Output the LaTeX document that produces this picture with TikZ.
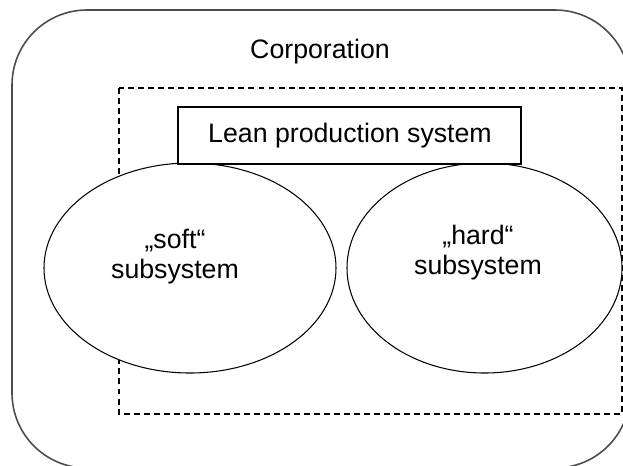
\documentclass[tikz,border=0pt]{standalone}
\usepackage{fontspec}
\setmainfont{Liberation Sans}
\usetikzlibrary{shapes.geometric,positioning}

\tikzset{
  labeltext/.style={font=\fontsize{15.2}{17}\selectfont, align=center, inner sep=0pt},
  subsys/.style={ellipse, draw=black, fill=white, line width=0.6pt, inner sep=0pt},
}

\begin{document}
\begin{tikzpicture}[x=0.2mm, y=-0.2mm]
        \useasboundingbox (0,0) rectangle (623,465);
        \clip (0,0) rectangle (623,465);
        % Outer frame (corporation)
        \draw[gray!60!black, line width=0.9pt, rounded corners=15mm] (12,10) rectangle (630,468);
        \node[labeltext, anchor=base] (corp) at (320,58) {Corporation};
        % Dashed system boundary
        \draw[black, dashed, dash pattern=on 3.4pt off 2.3pt, line width=0.6pt] (119,88) rectangle (622,414);
        % Subsystems
        \node[subsys, minimum width=58.4mm, minimum height=42mm] (soft) at (190,268) {};
        \node[subsys, minimum width=55mm, minimum height=42mm] (hard) at (484.5,268) {};
        \node[labeltext] (softtext) at (175,257) {„soft“\\subsystem};
        \node[labeltext] (hardtext) at (478,253) {„hard“\\subsystem};
        % Lean production system box
        \node[draw=black, fill=white, line width=0.6pt, minimum width=68.6mm, minimum height=11.4mm, inner sep=0pt]
          (lean) at (349.5,135.5) {};
        \node[labeltext, anchor=base] (leantext) at (350,142) {Lean production system};
      \end{tikzpicture}
\end{document}
